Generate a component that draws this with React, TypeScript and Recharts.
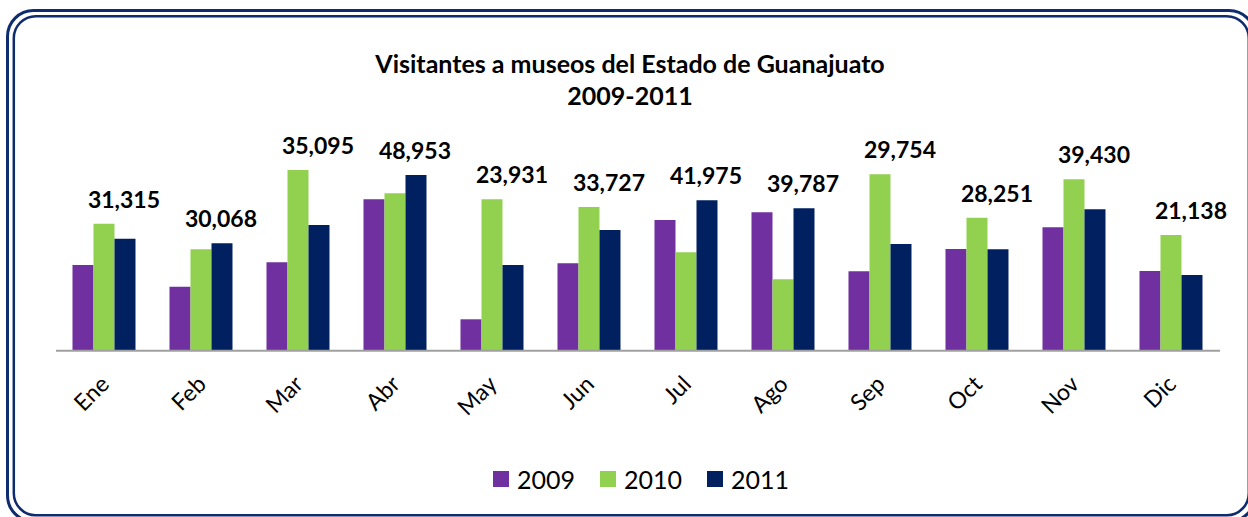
import React from "react";
import { Bar, ComposedChart, LabelList, XAxis, YAxis } from "recharts";

const months = ["Ene", "Feb", "Mar", "Abr", "May", "Jun", "Jul", "Ago", "Sep", "Oct", "Nov", "Dic"];
const v2009 = [21400, 16000, 22100, 37850, 7850, 21850, 32700, 34600, 19850, 25400, 30850, 19900];
const v2010 = [31750, 25350, 45200, 39350, 37850, 35900, 24600, 17850, 44100, 33250, 42850, 28900];
const v2011 = [28000, 26850, 31400, 43900, 21400, 30200, 37600, 35600, 26700, 25350, 35350, 18900];
const topLabels = ["31,315", "30,068", "35,095", "48,953", "23,931", "33,727", "41,975", "39,787", "29,754", "28,251", "39,430", "21,138"];

const series = [
  { key: "y2009", name: "2009", color: "#7030a0" },
  { key: "y2010", name: "2010", color: "#92d050" },
  { key: "y2011", name: "2011", color: "#002060" },
];

const data = months.map((m, i) => ({
  month: m,
  y2009: v2009[i],
  y2010: v2010[i],
  y2011: v2011[i],
}));

const FONT = "Lato, 'Open Sans', sans-serif";

// label sits over the tallest bar of the month, centred on the 2011 bar
const GroupLabel = (props: any) => {
  const { x, y, width, height, index } = props;
  const d = data[index];
  if (!d || !d.y2011) return null;
  const perUnit = height / d.y2011;
  const base = y + height;
  const top = base - Math.max(d.y2009, d.y2010, d.y2011) * perUnit;
  return (
    <text
      x={x + width / 2 - 1}
      y={top - 16}
      textAnchor="middle"
      fontFamily={FONT}
      fontWeight="bold"
      fontSize={23}
      fill="#000"
    >
      {topLabels[index]}
    </text>
  );
};

const MonthTick = (props: any) => {
  const { x, y, payload } = props;
  const ax = x + 6;
  const ay = y + 33;
  return (
    <text
      x={ax}
      y={ay}
      transform={`rotate(-45, ${ax}, ${ay})`}
      textAnchor="end"
      fontFamily={FONT}
      fontSize={23}
      fill="#000"
    >
      {payload.value}
    </text>
  );
};

const App = () => {
  return (
    <div
      style={{
        position: "absolute",
        left: 0,
        top: 0,
        width: 1248,
        height: 517,
        overflow: "hidden",
        background: "#fff",
        fontFamily: FONT,
      }}
    >
      <div
        style={{
          position: "absolute",
          left: 0,
          top: 47,
          width: 1260,
          textAlign: "center",
          fontWeight: "bold",
          fontSize: 25,
          lineHeight: "32px",
          color: "#000",
        }}
      >
        Visitantes a museos del Estado de Guanajuato
        <br />
        2009-2011
      </div>
      <ComposedChart
        width={1248}
        height={517}
        data={data}
        margin={{ top: 150.7, right: 28, bottom: 136.3, left: 56 }}
        barCategoryGap="17%"
        barGap={0}
      >
        <XAxis
          dataKey="month"
          height={30}
          axisLine={{ stroke: "#a0a0a0", strokeWidth: 2 }}
          tickLine={false}
          tickSize={0}
          interval={0}
          tick={<MonthTick />}
        />
        <YAxis hide domain={[0, 50000]} />
        {series.map((s) => (
          <Bar key={s.key} dataKey={s.key} name={s.name} fill={s.color} isAnimationActive={false}>
            {s.key === "y2011" && <LabelList dataKey="y2011" content={<GroupLabel />} />}
          </Bar>
        ))}
      </ComposedChart>
      <div
        style={{
          position: "absolute",
          left: 493,
          top: 464,
          display: "flex",
          alignItems: "center",
          fontSize: 25,
          lineHeight: "30px",
          color: "#000",
        }}
      >
        {series.map((s) => (
          <div key={s.key} style={{ display: "flex", alignItems: "center", marginRight: 25 }}>
            <span style={{ width: 16, height: 16, background: s.color, marginRight: 8, display: "inline-block" }} />
            <span>{s.name}</span>
          </div>
        ))}
      </div>
      <svg
        width={1248}
        height={517}
        style={{ position: "absolute", left: 0, top: 0, pointerEvents: "none" }}
      >
        <rect x={7.5} y={10.5} width={1247.5} height={511} rx={26} fill="none" stroke="#0f2c6e" strokeWidth={3} />
        <rect x={13.8} y={16.2} width={1235} height={499} rx={22} fill="none" stroke="#0f2c6e" strokeWidth={2.5} />
      </svg>
    </div>
  );
};

export default App;
